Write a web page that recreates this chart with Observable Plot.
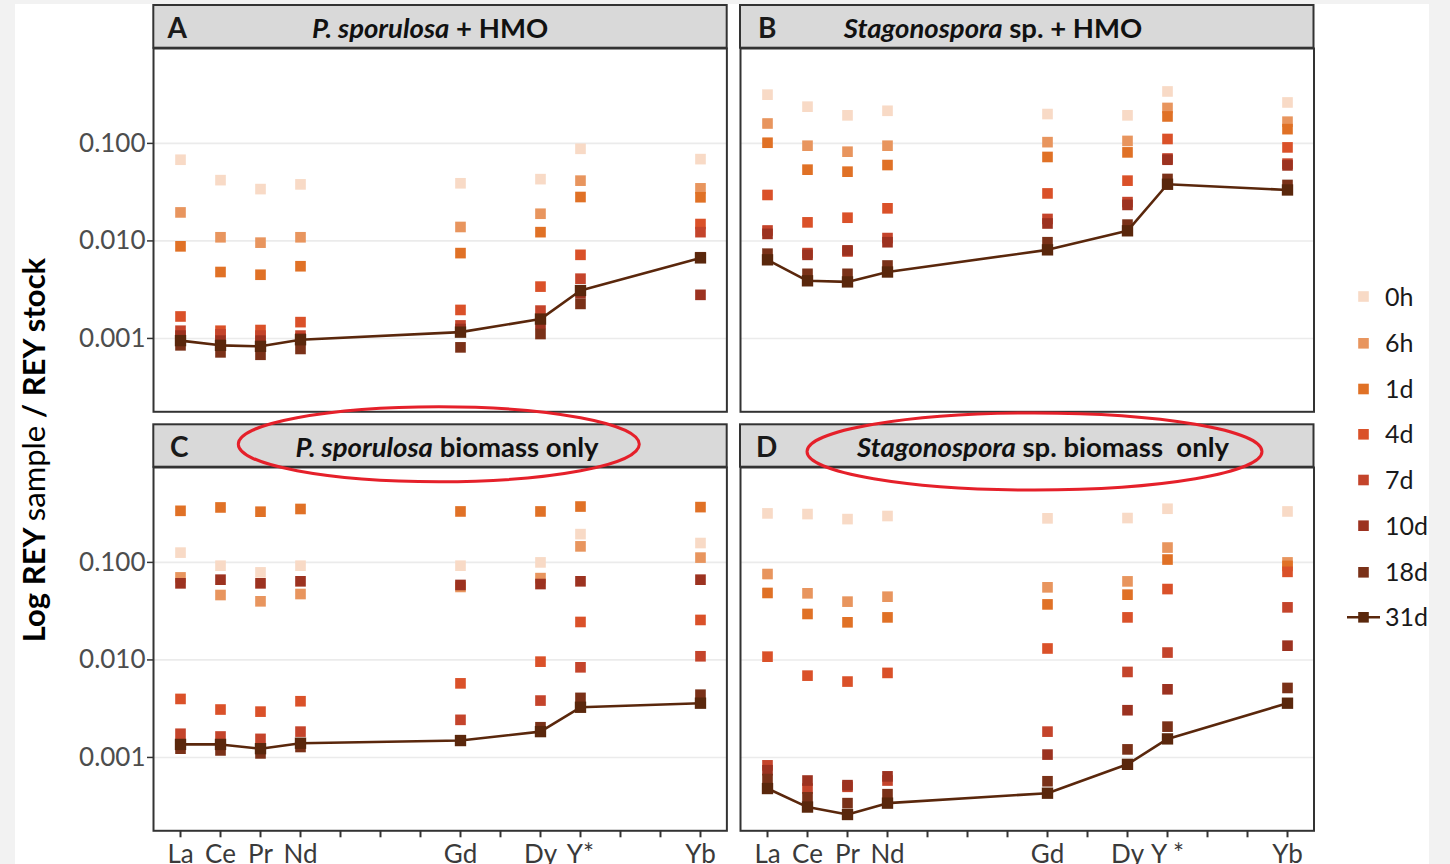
<!DOCTYPE html>
<html><head><meta charset="utf-8">
<script src="https://cdn.jsdelivr.net/npm/d3@7"></script>
<script src="https://cdn.jsdelivr.net/npm/@observablehq/plot@0.6"></script>
<style>
html,body{margin:0;padding:0;background:#f2f2f2;}
#root{position:relative;width:1450px;height:864px;overflow:hidden;font-family:Lato,sans-serif;}
#sheet{position:absolute;left:15px;top:4px;width:1414px;height:860px;background:#fff;}
#overlay{position:absolute;left:0;top:0;pointer-events:none;}
</style></head><body><div id="root"><div id="sheet"></div></div>
<script>
// x slots (lanthanide order, Y* placed at Ho's position)
const elements = ["La","Ce","Pr","Nd","Pm","Sm","Eu","Gd","Tb","Dy","Y*","Er","Tm","Yb"];
const tickLabelsC = ["La","Ce","Pr","Nd","","","","Gd","","Dy","Y*","","","Yb"];
const tickLabelsD = ["La","Ce","Pr","Nd","","","","Gd","","Dy","Y *","","","Yb"];
const measured = ["La","Ce","Pr","Nd","Gd","Dy","Y*","Yb"];
const times = ["0h","6h","1d","4d","7d","10d","18d","31d"];
const timeColors = ["#f8dac6","#e8955e","#e07126","#da5129","#c4442b","#9c3220","#7a3118","#5a270c"];
const yTicks = [0.001, 0.01, 0.1];
const yDomain = [0.000177, 0.94];

// rows = times (0h..31d), columns = measured elements (La, Ce, Pr, Nd, Gd, Dy, Y*, Yb)
const valuesA = [
  [0.068, 0.042, 0.034, 0.038, 0.039, 0.043, 0.088, 0.069],
  [0.0196, 0.0109, 0.0096, 0.0109, 0.0139, 0.019, 0.0415, 0.0346],
  [0.0088, 0.0048, 0.0045, 0.0055, 0.0075, 0.0123, 0.0282, 0.028],
  [0.00168, 0.0012, 0.00122, 0.00147, 0.00196, 0.0034, 0.0072, 0.0149],
  [0.0012, 0.0011, 0.00107, 0.00107, 0.00136, 0.00193, 0.0041, 0.0123],
  [0.00107, 0.00095, 0.00095, 0.001, 0.00125, 0.00141, 0.0029, 0.0028],
  [0.00085, 0.00072, 0.00068, 0.00078, 0.00081, 0.00111, 0.00226, 0.0068],
  [0.00095, 0.00085, 0.00083, 0.00097, 0.00116, 0.00158, 0.0031, 0.0067]
];
const valuesB = [
  [0.316, 0.238, 0.194, 0.216, 0.2, 0.194, 0.341, 0.263],
  [0.16, 0.0947, 0.0822, 0.0947, 0.103, 0.106, 0.231, 0.167],
  [0.1016, 0.0538, 0.0513, 0.06, 0.0726, 0.0809, 0.189, 0.14],
  [0.0296, 0.0155, 0.0173, 0.0216, 0.0307, 0.0415, 0.111, 0.091],
  [0.0128, 0.0075, 0.0078, 0.0107, 0.0168, 0.025, 0.07, 0.062],
  [0.0118, 0.0072, 0.008, 0.0097, 0.0151, 0.0234, 0.068, 0.0595],
  [0.0074, 0.0046, 0.0046, 0.0056, 0.0097, 0.0147, 0.0432, 0.0375],
  [0.0064, 0.0039, 0.0038, 0.0048, 0.0081, 0.0127, 0.0381, 0.0333]
];
const valuesC = [
  [0.126, 0.0925, 0.079, 0.0925, 0.0925, 0.1, 0.195, 0.158],
  [0.0702, 0.0463, 0.0399, 0.0474, 0.056, 0.069, 0.146, 0.112],
  [0.338, 0.366, 0.331, 0.353, 0.333, 0.333, 0.374, 0.369],
  [0.00398, 0.0031, 0.00295, 0.00377, 0.00575, 0.0096, 0.0245, 0.0257],
  [0.00175, 0.00164, 0.00155, 0.00184, 0.00243, 0.00383, 0.0084, 0.0109],
  [0.061, 0.0665, 0.061, 0.064, 0.0587, 0.06, 0.064, 0.0665],
  [0.00123, 0.00118, 0.0011, 0.00128, 0.0015, 0.00204, 0.00408, 0.0044],
  [0.00136, 0.00136, 0.00123, 0.0014, 0.00149, 0.00184, 0.00327, 0.0036]
];
const valuesD = [
  [0.318, 0.313, 0.278, 0.299, 0.283, 0.285, 0.355, 0.333],
  [0.076, 0.0482, 0.0396, 0.0445, 0.0555, 0.0639, 0.142, 0.1],
  [0.0486, 0.0296, 0.0243, 0.0273, 0.0371, 0.0467, 0.107, 0.092],
  [0.0108, 0.0069, 0.006, 0.00736, 0.0131, 0.0273, 0.0533, 0.08],
  [0.00083, 0.00048, 0.0005, 0.00058, 0.00184, 0.00753, 0.0119, 0.0346],
  [0.00074, 0.00058, 0.00052, 0.00064, 0.00107, 0.00305, 0.005, 0.014],
  [0.0006, 0.00039, 0.00034, 0.00042, 0.00057, 0.00121, 0.00207, 0.00516],
  [0.00048, 0.00031, 0.00026, 0.00034, 0.00043, 0.00085, 0.00155, 0.0036]
];

const panelTitles = [
  {letter:"A", parts:[["P. sporulosa", true], [" + HMO", false]]},
  {letter:"B", parts:[["Stagonospora", true], [" sp. + HMO", false]]},
  {letter:"C", parts:[["P. sporulosa", true], [" biomass only", false]]},
  {letter:"D", parts:[["Stagonospora", true], [" sp. biomass  only", false]]}
];

const root = document.getElementById("root");
const boxes = [
  {x0:153.3, x1:726.7, y0:47.7, y1:411, s0:5},
  {x0:740, x1:1313.5, y0:47.7, y1:411, s0:5},
  {x0:153.3, x1:726.7, y0:466.7, y1:830, s0:424.3},
  {x0:740, x1:1313.5, y0:466.7, y1:830, s0:424.3}
];

function panel(values, box, showY, xLabels) {
  const showX = !!xLabels;
  const mL = showY ? 110 : 4, mR = 4, mT = 4, mB = showX ? 50 : 4;
  const w = box.x1 - box.x0, h = box.y1 - box.y0;
  const rows = [];
  times.forEach((t, i) => measured.forEach((el, j) => rows.push({time: t, el, v: values[i][j]})));
  const others = rows.filter(d => d.time !== "31d");
  const last = rows.filter(d => d.time === "31d");
  const marks = [
    Plot.gridY(yTicks, {stroke: "#ebebeb", strokeOpacity: 1, strokeWidth: 1.6}),
    Plot.dot(others, {x: "el", y: "v", fill: "time", symbol: "square", r: 6}),
    Plot.line(last, {x: "el", y: "v", stroke: timeColors[7], strokeWidth: 2.6}),
    Plot.dot(last, {x: "el", y: "v", fill: "time", symbol: "square", r: 6.4}),
    Plot.frame({stroke: "#333333", strokeWidth: 2})
  ];
  if (showY) marks.push(Plot.axisY(yTicks, {tickFormat: d3.format(".3f"), tickSize: 6, tickPadding: 2,
    fontSize: 26, fill: "#4d4d4d", stroke: "#333333", strokeWidth: 1.5, label: null}));
  if (showX) marks.push(Plot.axisX({tickFormat: d => xLabels[elements.indexOf(d)], tickSize: 7, tickPadding: 7,
    fontSize: 26, fill: "#3a3a3a", stroke: "#333333", strokeWidth: 2, label: null}));
  const chart = Plot.plot({
    width: w + mL + mR, height: h + mT + mB,
    marginLeft: mL, marginRight: mR, marginTop: mT, marginBottom: mB,
    x: Object.assign({type: "point", domain: elements, padding: 0.6}, showX ? {} : {axis: null}),
    y: Object.assign({type: "log", domain: yDomain}, showY ? {} : {axis: null}),
    color: {domain: times, range: timeColors},
    style: {fontFamily: "Lato, sans-serif", background: "transparent", overflow: "visible"},
    marks
  });
  chart.style.position = "absolute";
  chart.style.left = (box.x0 - mL) + "px";
  chart.style.top = (box.y0 - mT) + "px";
  root.appendChild(chart);
}

panel(valuesA, boxes[0], true, null);
panel(valuesB, boxes[1], false, null);
panel(valuesC, boxes[2], true, tickLabelsC);
panel(valuesD, boxes[3], false, tickLabelsD);

// overlay: strips, annotations, legend, axis title
const svg = d3.select(root).append("svg").attr("id", "overlay").attr("width", 1450).attr("height", 864)
  .style("font-family", "Lato, sans-serif");
const titleCenters = [430, 993, 447, 1043];
const letterX = [167.5, 758, 170, 756];
boxes.forEach((b, i) => {
  svg.append("rect").attr("x", b.x0).attr("y", b.s0).attr("width", b.x1 - b.x0).attr("height", b.y0 - b.s0)
    .attr("fill", "#d9d9d9").attr("stroke", "#333333").attr("stroke-width", 2);
  const base = b.s0 + 32.5;
  svg.append("text").attr("x", letterX[i]).attr("y", base).attr("font-size", 28).attr("font-weight", 700)
    .attr("fill", "#1a1a1a").text(panelTitles[i].letter);
  const t = svg.append("text").attr("x", titleCenters[i]).attr("y", base).attr("text-anchor", "middle")
    .attr("font-size", 27.5).attr("font-weight", 700).attr("fill", "#111").attr("xml:space", "preserve")
    .style("white-space", "pre");
  panelTitles[i].parts.forEach(([s, it]) => t.append("tspan").attr("font-style", it ? "italic" : "normal").text(s));
});

// red annotation ellipses
svg.append("ellipse").attr("cx", 438.8).attr("cy", 444.2).attr("rx", 200.5).attr("ry", 37.5)
  .attr("fill", "none").attr("stroke", "#e5202a").attr("stroke-width", 3);
svg.append("ellipse").attr("cx", 1034.5).attr("cy", 451.5).attr("rx", 227.5).attr("ry", 38.5)
  .attr("fill", "none").attr("stroke", "#e5202a").attr("stroke-width", 3);

// legend
const legendY = [296.5, 343.3, 389, 434.3, 480, 525.7, 572.3, 617.3];
times.forEach((t, i) => {
  const y = legendY[i];
  if (i === 7) svg.append("line").attr("x1", 1347).attr("x2", 1380).attr("y1", y).attr("y2", y)
    .attr("stroke", timeColors[i]).attr("stroke-width", 2.4);
  svg.append("rect").attr("x", 1363.5 - 5.3).attr("y", y - 5.3).attr("width", 10.6).attr("height", 10.6)
    .attr("fill", timeColors[i]);
  svg.append("text").attr("x", 1385).attr("y", y).attr("dy", "0.36em").attr("font-size", 25)
    .attr("fill", "#1a1a1a").text(t);
});

// y axis title
const yt = svg.append("text").attr("transform", "translate(45,450) rotate(-90)").attr("text-anchor", "middle")
  .attr("font-size", 31).attr("font-weight", 700).attr("fill", "#000");
yt.append("tspan").text("Log REY ");
yt.append("tspan").attr("font-weight", 400).text("sample");
yt.append("tspan").text(" / REY stock");
</script>
</body></html>
